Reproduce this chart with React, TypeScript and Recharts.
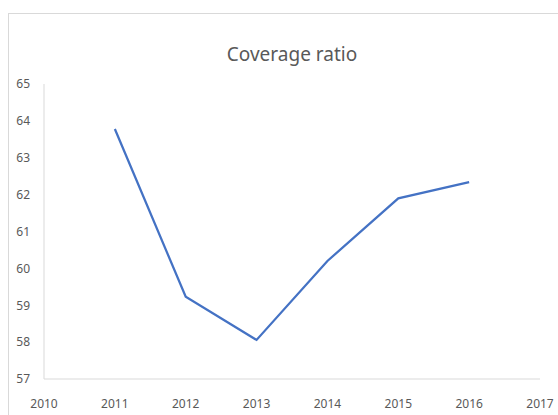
import React from "react";
import { LineChart, Line, XAxis, YAxis } from "recharts";

// Coverage ratio by year
const years = [2011, 2012, 2013, 2014, 2015, 2016];
const coverage = [63.78, 59.23, 58.06, 60.2, 61.9, 62.34];
const xTicks = [2010, 2011, 2012, 2013, 2014, 2015, 2016, 2017];
const yTicks = [57, 58, 59, 60, 61, 62, 63, 64, 65];

const data = years.map((year, i) => ({ year, value: coverage[i] }));

const font = "'Noto Sans', 'Open Sans', sans-serif";
const tickStyle = { fill: "#595959", fontSize: 12, fontFamily: font };

export default function App() {
  return (
    <div style={{ position: "relative", width: 558, height: 415, overflow: "hidden", background: "#fff" }}>
      <style>{`html, body { margin: 0; padding: 0; overflow: hidden; }`}</style>
      <div
        style={{
          position: "absolute",
          left: 8,
          top: 13,
          width: 600,
          height: 450,
          border: "1px solid #d9d9d9",
          boxSizing: "border-box",
        }}
      />
      <div
        style={{
          position: "absolute",
          left: 0,
          width: 584,
          top: 42,
          textAlign: "center",
          fontFamily: font,
          fontSize: 19,
          color: "#595959",
          lineHeight: "24px",
        }}
      >
        Coverage ratio
      </div>
      <div style={{ position: "absolute", left: 0, top: 0 }}>
        <LineChart width={558} height={415} data={data} margin={{ top: 84, right: 18, left: 0, bottom: 0 }}>
          <XAxis
            dataKey="year"
            type="number"
            domain={[2010, 2017]}
            ticks={xTicks}
            tickLine={false}
            axisLine={{ stroke: "#d9d9d9", strokeWidth: 1 }}
            tick={tickStyle}
            tickMargin={14}
            height={36}
            interval={0}
          />
          <YAxis
            type="number"
            domain={[57, 65]}
            ticks={yTicks}
            tickLine={false}
            axisLine={{ stroke: "#d9d9d9", strokeWidth: 1 }}
            tick={tickStyle}
            tickMargin={8}
            width={44}
            interval={0}
          />
          <Line
            type="linear"
            dataKey="value"
            stroke="#4472C4"
            strokeWidth={2.25}
            dot={false}
            isAnimationActive={false}
          />
        </LineChart>
      </div>
    </div>
  );
}
